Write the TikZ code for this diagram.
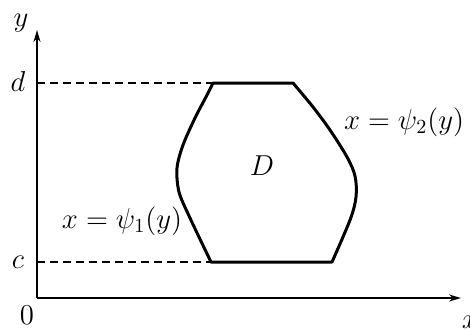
\documentclass[tikz,border=0pt]{standalone}
\usepackage{amsmath}
\usepackage{tikz}
\usetikzlibrary{arrows.meta,positioning,calc}

\begin{document}
\begin{tikzpicture}[
  x=0.5pt, y=-0.5pt,
  axis/.style={-{Stealth[length=6pt,width=3.5pt]}, line width=0.9pt},
  guide/.style={dash pattern=on 4pt off 2.5pt, line width=0.6pt},
  boundary/.style={line width=1.5pt, line join=round},
  lbl/.style={font=\Large, inner sep=0pt}
]
\useasboundingbox (0,0) rectangle (470,329);
% axes
\coordinate (O) at (37,298);
\coordinate (Ytip) at (37,30);
\coordinate (Xtip) at (461,298);
\draw[axis] (O) -- (Ytip);
\draw[axis] (O) -- (Xtip);
\node[lbl] (ylab) at (21,23) {$y$};
\node[lbl] (xlab) at (470,322) {$x$};
\node[lbl] (zero) at (27,315) {$0$};
% region D
\coordinate (tl) at (213,83);
\coordinate (tr) at (293,83);
\coordinate (br) at (332,262);
\coordinate (bl) at (211,262);
\draw[boundary] (tl) -- (tr)
  -- plot[smooth, tension=0.55] coordinates {(293,83) (313,107) (330,130) (347,157) (355,176) (356,197) (350,220) (332,262)}
  -- (bl)
  -- plot[smooth, tension=0.5] coordinates {(211,262) (190,218) (179,192) (177,168) (183,145) (195,118) (207,95) (213,83)}
  -- cycle;
% guides to the axis
\coordinate (dpt) at (O |- tl);
\coordinate (cpt) at (O |- bl);
\draw[guide] (dpt) -- (tl);
\draw[guide] (cpt) -- (bl);
\node[lbl] (dlab) at (18,81) {$d$};
\node[lbl] (clab) at (18,262) {$c$};
\node[lbl] (Dlab) at (262,166) {$D$};
\node[lbl] (psi2) at (404,122) {$x = \psi_2(y)$};
\node[lbl] (psi1) at (122,221) {$x = \psi_1(y)$};
\end{tikzpicture}
\end{document}
